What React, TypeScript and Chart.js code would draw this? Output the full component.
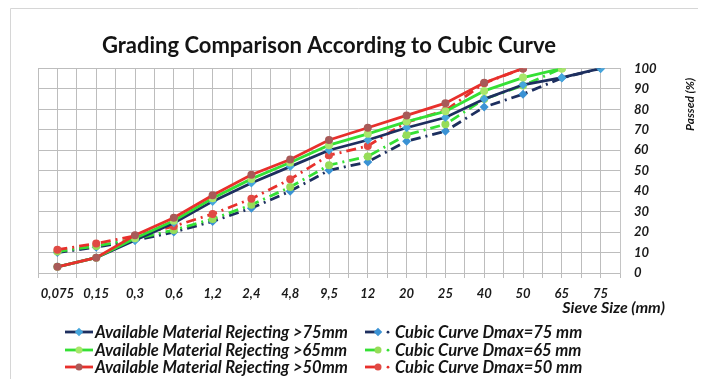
import React, { useEffect, useRef } from 'react';
import { Chart, registerables } from 'chart.js';

Chart.register(...registerables);

const sieveLabels = ['0,075', '0,15', '0,3', '0,6', '1,2', '2,4', '4,8', '9,5', '12', '20', '25', '40', '50', '65', '75'];
const yTicks = [0, 10, 20, 30, 40, 50, 60, 70, 80, 90, 100];

const available75 = [3, 7.5, 16, 24.5, 35, 44, 52, 60, 65, 71, 76, 85, 92, 95.5, 100];
const available65 = [3, 7.5, 17, 25.5, 36.5, 46, 54, 62.5, 68, 74, 79, 89, 95.5, 100, null];
const available50 = [3, 7.5, 18.5, 27, 38, 48, 55.5, 65, 71, 77, 83, 93, 100, null, null];
const cubic75 = [10, 12.6, 15.9, 20, 25.2, 31.7, 40, 50.2, 54.3, 64.4, 69.3, 81.1, 87.4, 95.3, 100];
const cubic65 = [10.5, 13.2, 16.7, 21, 26.4, 33.3, 42, 52.7, 57, 67.5, 72.7, 85, 91.6, 100, null];
const cubic50 = [11.4, 14.4, 18.2, 22.9, 28.8, 36.3, 45.8, 57.5, 62.1, 73.7, 79.4, 92.8, 100, null, null];

const seriesNames = [
  'Available Material Rejecting >75mm',
  'Available Material Rejecting >65mm',
  'Available Material Rejecting >50mm',
  'Cubic Curve Dmax=75 mm',
  'Cubic Curve Dmax=65 mm',
  'Cubic Curve Dmax=50 mm',
];

const NAVY = '#1d2f5f';
const GREEN = '#35e035';
const RED = '#e8302c';
const DASH = [10, 5, 2, 5];

const styles = [
  { line: NAVY, point: '#45a6dc', shape: 'rectRot', dashed: false },
  { line: GREEN, point: '#a8e66a', shape: 'circle', dashed: false },
  { line: RED, point: '#a85a58', shape: 'circle', dashed: false },
  { line: NAVY, point: '#3a92d4', shape: 'rectRot', dashed: true },
  { line: GREEN, point: '#96dc58', shape: 'circle', dashed: true },
  { line: RED, point: '#e04a44', shape: 'circle', dashed: true },
];
const drawOrder = [2, 1, 0, 5, 4, 3];

const toPoints = (vals: (number | null)[]) => vals.map((y, i) => ({ x: i, y }));

const FONT = 'Lato, "Open Sans", sans-serif';

const axisTitles = {
  id: 'axisTitles',
  beforeDraw(chart: any) {
    const ctx = chart.ctx;
    ctx.save();
    ctx.strokeStyle = '#d6d6d6';
    ctx.lineWidth = 1;
    ctx.beginPath();
    ctx.moveTo(2.5, chart.height);
    ctx.lineTo(2.5, 0.5);
    ctx.lineTo(chart.width, 0.5);
    ctx.stroke();
    ctx.restore();
  },
  afterDraw(chart: any) {
    const { ctx, chartArea } = chart;
    ctx.save();
    ctx.fillStyle = '#151515';
    ctx.font = `italic bold 16px ${FONT}`;
    ctx.textAlign = 'right';
    ctx.textBaseline = 'middle';
    ctx.fillText('Sieve Size (mm)', chartArea.right + 45, chartArea.bottom + 35);
    ctx.translate(chartArea.right + 70, chartArea.top + 36);
    ctx.rotate(-Math.PI / 2);
    ctx.font = `italic bold 12px ${FONT}`;
    ctx.textAlign = 'center';
    ctx.fillText('Passed (%)', 0, 0);
    ctx.restore();
  },
};

function LegendSample({ idx }: { idx: number }) {
  const s = styles[idx];
  const marker = (cx: number) =>
    s.shape === 'rectRot' ? (
      <rect x={cx - 3} y={3} width={6} height={6} fill={s.point} transform={`rotate(45 ${cx} 6)`} />
    ) : (
      <circle cx={cx} cy={6} r={3.5} fill={s.point} />
    );
  if (!s.dashed) {
    return (
      <svg width={30} height={12} style={{ display: 'block' }}>
        <line x1={0} y1={6} x2={28} y2={6} stroke={s.line} strokeWidth={2.8} />
        {marker(14)}
      </svg>
    );
  }
  return (
    <svg width={30} height={12} style={{ display: 'block' }}>
      <line x1={0} y1={6} x2={14} y2={6} stroke={s.line} strokeWidth={2.8} />
      {marker(13)}
      <circle cx={23} cy={6.2} r={1.4} fill={s.line} />
    </svg>
  );
}

export default function App() {
  const canvasRef = useRef<HTMLCanvasElement | null>(null);

  useEffect(() => {
    if (!canvasRef.current) return;
    const seriesData = [available75, available65, available50, cubic75, cubic65, cubic50];
    const datasets = seriesData.map((vals, i) => ({
      label: seriesNames[i],
      data: toPoints(vals),
      borderColor: styles[i].line,
      backgroundColor: styles[i].point,
      pointBackgroundColor: styles[i].point,
      pointBorderColor: styles[i].point,
      pointStyle: styles[i].shape,
      pointRadius: styles[i].shape === 'rectRot' ? 4.5 : 4,
      pointBorderWidth: 0,
      borderWidth: 2.8,
      borderDash: styles[i].dashed ? DASH : [],
      tension: 0,
      fill: false,
      order: drawOrder[i],
    }));

    const chart = new Chart(canvasRef.current, {
      type: 'line',
      data: { datasets },
      plugins: [axisTitles],
      options: {
        animation: false,
        responsive: false,
        layout: { padding: { left: 30, right: 0, top: 0, bottom: 0 } },
        plugins: {
          legend: { display: false },
          tooltip: { enabled: false },
          title: {
            display: true,
            text: 'Grading Comparison According to Cubic Curve',
            fullSize: false,
            color: '#141414',
            font: { family: FONT, size: 22, weight: 'bold' },
            padding: { top: 25, bottom: 9 },
          },
        },
        scales: {
          x: {
            type: 'linear',
            min: -0.5,
            max: sieveLabels.length - 0.5,
            afterBuildTicks: (scale: any) => {
              const t: any[] = [];
              for (let i = 0; i <= sieveLabels.length * 2; i++) t.push({ value: -0.5 + i * 0.5 });
              scale.ticks = t;
            },
            afterFit: (scale: any) => {
              scale.height = 106;
            },
            grid: {
              color: '#bdbdbd',
              borderDash: [2, 2],
              lineWidth: 1,
              drawTicks: true,
              tickLength: 5,
              tickColor: '#bdbdbd',
              tickBorderDash: [],
            } as any,
            border: { display: true, color: '#bdbdbd', dash: [] },
            ticks: {
              autoSkip: false,
              maxRotation: 0,
              minRotation: 0,
              padding: 8,
              color: '#1a1a1a',
              font: { family: FONT, size: 13, style: 'italic', weight: 'bold' },
              callback: (v: any) => {
                const n = Number(v);
                return Number.isInteger(n) ? sieveLabels[n] : '';
              },
            },
          },
          y: {
            type: 'linear',
            position: 'right',
            min: 0,
            max: 100,
            afterBuildTicks: (scale: any) => {
              scale.ticks = yTicks.map((value) => ({ value }));
            },
            afterFit: (scale: any) => {
              scale.width = 86;
            },
            grid: {
              color: '#bdbdbd',
              borderDash: [2, 2],
              lineWidth: 1,
              drawTicks: false,
            } as any,
            border: { display: true, color: '#c4c4c4' },
            ticks: {
              padding: 14,
              color: '#1a1a1a',
              font: { family: FONT, size: 13, style: 'italic', weight: 'bold' },
            },
          },
        },
      } as any,
    });
    return () => chart.destroy();
  }, []);

  const rows = [
    [0, 3],
    [1, 4],
    [2, 5],
  ];
  const rowY = [324, 342, 359];
  const colX = [57, 357];
  const colTextX = [87, 387];

  return (
    <div style={{ position: 'relative', width: 698, height: 371 }}>
      <canvas ref={canvasRef} width={698} height={371} style={{ position: 'absolute', left: 0, top: 0 }} />
      {rows.map((row, r) =>
        row.map((idx, c) => (
          <React.Fragment key={`${r}-${c}`}>
            <div style={{ position: 'absolute', left: colX[c], top: rowY[r] - 6 }}>
              <LegendSample idx={idx} />
            </div>
            <div
              style={{
                position: 'absolute',
                left: colTextX[c],
                top: rowY[r] - 9,
                height: 18,
                lineHeight: '18px',
                whiteSpace: 'nowrap',
                fontFamily: FONT,
                fontSize: 16.5,
                fontStyle: 'italic',
                fontWeight: 'bold',
                color: '#141414',
              }}
            >
              {seriesNames[idx]}
            </div>
          </React.Fragment>
        ))
      )}
    </div>
  );
}
